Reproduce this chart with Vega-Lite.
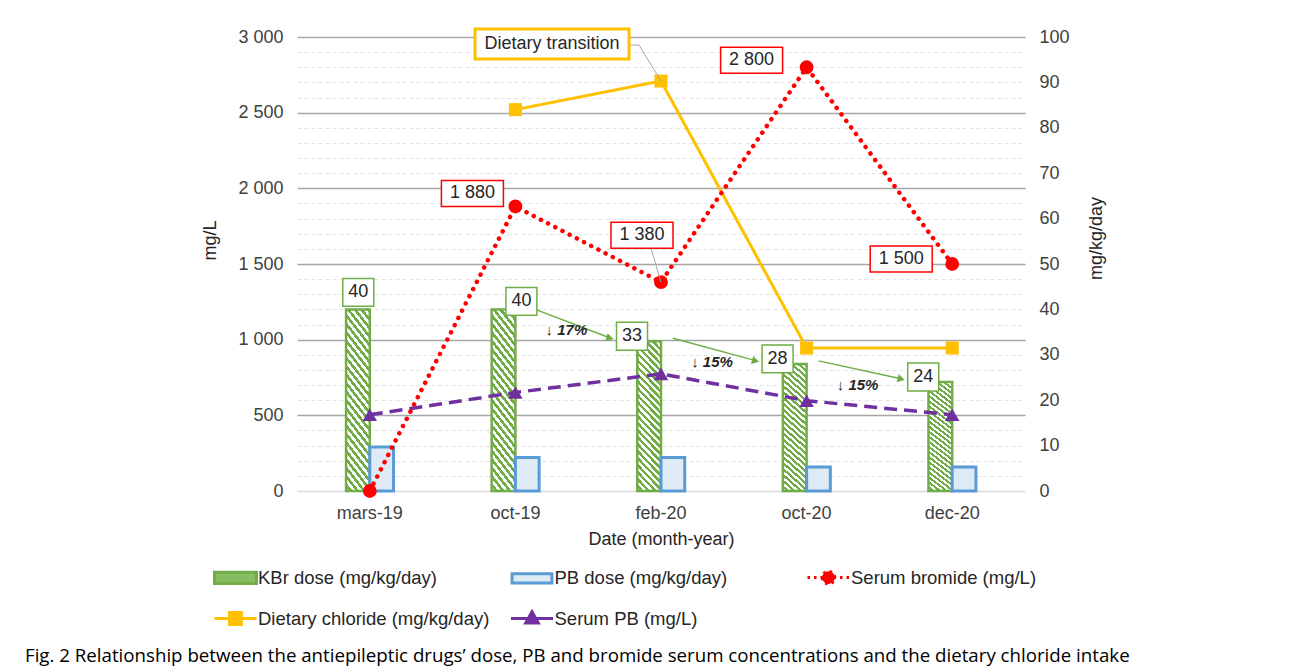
{
"$schema": "https://vega.github.io/schema/vega-lite/v6.json",
"width": 728, "height": 454,
"autosize": {"type": "none"},
"padding": {"left": 297, "top": 37, "right": 267, "bottom": 181},
"background": "white",
"config": {
  "view": {"stroke": null},
  "font": "Liberation Sans",
  "locale": {"number": {"decimal": ".", "thousands": " ", "grouping": [3], "currency": ["", ""]}},
  "axis": {"labelFont": "Liberation Sans", "titleFont": "Liberation Sans", "labelFontSize": 18, "titleFontSize": 18, "labelColor": "#404040", "titleColor": "#262626", "titleFontWeight": "normal", "ticks": false, "domain": false}
},
"title": {"text": "Fig. 2 Relationship between the antiepileptic drugs\u2019 dose, PB and bromide serum concentrations and the dietary chloride intake", "orient": "bottom", "anchor": "start", "frame": "group", "dx": -272, "offset": 16, "font": "Open Sans", "fontSize": 18.7, "fontWeight": "normal", "color": "#000000"},
"datasets": {
  "main": [
    {"date": "mars-19", "series": "KBr dose (mg/kg/day)", "value": 40},
    {"date": "oct-19", "series": "KBr dose (mg/kg/day)", "value": 40},
    {"date": "feb-20", "series": "KBr dose (mg/kg/day)", "value": 33},
    {"date": "oct-20", "series": "KBr dose (mg/kg/day)", "value": 28},
    {"date": "dec-20", "series": "KBr dose (mg/kg/day)", "value": 24},
    {"date": "mars-19", "series": "PB dose (mg/kg/day)", "value": 9.7},
    {"date": "oct-19", "series": "PB dose (mg/kg/day)", "value": 7.4},
    {"date": "feb-20", "series": "PB dose (mg/kg/day)", "value": 7.4},
    {"date": "oct-20", "series": "PB dose (mg/kg/day)", "value": 5.3},
    {"date": "dec-20", "series": "PB dose (mg/kg/day)", "value": 5.3},
    {"date": "mars-19", "series": "Serum bromide (mg/L)", "value": 0},
    {"date": "oct-19", "series": "Serum bromide (mg/L)", "value": 1880},
    {"date": "feb-20", "series": "Serum bromide (mg/L)", "value": 1380},
    {"date": "oct-20", "series": "Serum bromide (mg/L)", "value": 2800},
    {"date": "dec-20", "series": "Serum bromide (mg/L)", "value": 1500},
    {"date": "oct-19", "series": "Dietary chloride (mg/kg/day)", "value": 84},
    {"date": "feb-20", "series": "Dietary chloride (mg/kg/day)", "value": 90.3},
    {"date": "oct-20", "series": "Dietary chloride (mg/kg/day)", "value": 31.5},
    {"date": "dec-20", "series": "Dietary chloride (mg/kg/day)", "value": 31.5},
    {"date": "mars-19", "series": "Serum PB (mg/L)", "value": 16.8},
    {"date": "oct-19", "series": "Serum PB (mg/L)", "value": 21.7},
    {"date": "feb-20", "series": "Serum PB (mg/L)", "value": 25.8},
    {"date": "oct-20", "series": "Serum PB (mg/L)", "value": 19.9},
    {"date": "dec-20", "series": "Serum PB (mg/L)", "value": 16.8}
  ],
  "arrows": [
    {"from": "oct-19", "to": "feb-20", "v1": 40, "v2": 33, "pct": "\u2193 17%"},
    {"from": "feb-20", "to": "oct-20", "v1": 33, "v2": 28, "pct": "\u2193 15%"},
    {"from": "oct-20", "to": "dec-20", "v1": 28, "v2": 24, "pct": "\u2193 15%"}
  ]
},
"data": {"name": "main"},
"resolve": {"scale": {"y": "independent"}},
"layer": [
  {
    "encoding": {
      "x": {"field": "date", "type": "nominal", "sort": ["mars-19", "oct-19", "feb-20", "oct-20", "dec-20"], "scale": {"domain": ["mars-19", "oct-19", "feb-20", "oct-20", "dec-20"], "paddingInner": 0.674, "paddingOuter": 0.337},
        "axis": {"orient": "bottom", "title": "Date (month-year)", "labelAngle": 0, "labelPadding": 13, "titlePadding": 8, "labelColor": "#404040", "titleColor": "#262626", "grid": false}},
      "y": {"field": "value", "type": "quantitative", "scale": {"domain": [0, 100], "nice": false},
        "axis": {"orient": "right", "values": [0, 10, 20, 30, 40, 50, 60, 70, 80, 90, 100], "title": "mg/kg/day", "titleAngle": 270, "titleY": 201, "grid": false, "labelPadding": 14, "titlePadding": 36}}
    },
    "layer": [
      {
        "transform": [{"filter": "datum.series === 'KBr dose (mg/kg/day)'"}],
        "mark": {"type": "bar", "strokeWidth": 2.5, "stroke": "#70AD47", "fill": {"gradient": "linear", "x1": 1, "y1": 0, "x2": 0.811, "y2": 1.135, "stops": [
{"offset":0,"color":"#70AD47"},{"offset":0.02,"color":"#70AD47"},{"offset":0.02,"color":"#FFFFFF"},{"offset":0.04,"color":"#FFFFFF"},
{"offset":0.04,"color":"#70AD47"},{"offset":0.06,"color":"#70AD47"},{"offset":0.06,"color":"#FFFFFF"},{"offset":0.08,"color":"#FFFFFF"},
{"offset":0.08,"color":"#70AD47"},{"offset":0.1,"color":"#70AD47"},{"offset":0.1,"color":"#FFFFFF"},{"offset":0.12,"color":"#FFFFFF"},
{"offset":0.12,"color":"#70AD47"},{"offset":0.14,"color":"#70AD47"},{"offset":0.14,"color":"#FFFFFF"},{"offset":0.16,"color":"#FFFFFF"},
{"offset":0.16,"color":"#70AD47"},{"offset":0.18,"color":"#70AD47"},{"offset":0.18,"color":"#FFFFFF"},{"offset":0.2,"color":"#FFFFFF"},
{"offset":0.2,"color":"#70AD47"},{"offset":0.22,"color":"#70AD47"},{"offset":0.22,"color":"#FFFFFF"},{"offset":0.24,"color":"#FFFFFF"},
{"offset":0.24,"color":"#70AD47"},{"offset":0.26,"color":"#70AD47"},{"offset":0.26,"color":"#FFFFFF"},{"offset":0.28,"color":"#FFFFFF"},
{"offset":0.28,"color":"#70AD47"},{"offset":0.3,"color":"#70AD47"},{"offset":0.3,"color":"#FFFFFF"},{"offset":0.32,"color":"#FFFFFF"},
{"offset":0.32,"color":"#70AD47"},{"offset":0.34,"color":"#70AD47"},{"offset":0.34,"color":"#FFFFFF"},{"offset":0.36,"color":"#FFFFFF"},
{"offset":0.36,"color":"#70AD47"},{"offset":0.38,"color":"#70AD47"},{"offset":0.38,"color":"#FFFFFF"},{"offset":0.4,"color":"#FFFFFF"},
{"offset":0.4,"color":"#70AD47"},{"offset":0.42,"color":"#70AD47"},{"offset":0.42,"color":"#FFFFFF"},{"offset":0.44,"color":"#FFFFFF"},
{"offset":0.44,"color":"#70AD47"},{"offset":0.46,"color":"#70AD47"},{"offset":0.46,"color":"#FFFFFF"},{"offset":0.48,"color":"#FFFFFF"},
{"offset":0.48,"color":"#70AD47"},{"offset":0.5,"color":"#70AD47"},{"offset":0.5,"color":"#FFFFFF"},{"offset":0.52,"color":"#FFFFFF"},
{"offset":0.52,"color":"#70AD47"},{"offset":0.54,"color":"#70AD47"},{"offset":0.54,"color":"#FFFFFF"},{"offset":0.56,"color":"#FFFFFF"},
{"offset":0.56,"color":"#70AD47"},{"offset":0.58,"color":"#70AD47"},{"offset":0.58,"color":"#FFFFFF"},{"offset":0.6,"color":"#FFFFFF"},
{"offset":0.6,"color":"#70AD47"},{"offset":0.62,"color":"#70AD47"},{"offset":0.62,"color":"#FFFFFF"},{"offset":0.64,"color":"#FFFFFF"},
{"offset":0.64,"color":"#70AD47"},{"offset":0.66,"color":"#70AD47"},{"offset":0.66,"color":"#FFFFFF"},{"offset":0.68,"color":"#FFFFFF"},
{"offset":0.68,"color":"#70AD47"},{"offset":0.7,"color":"#70AD47"},{"offset":0.7,"color":"#FFFFFF"},{"offset":0.72,"color":"#FFFFFF"},
{"offset":0.72,"color":"#70AD47"},{"offset":0.74,"color":"#70AD47"},{"offset":0.74,"color":"#FFFFFF"},{"offset":0.76,"color":"#FFFFFF"},
{"offset":0.76,"color":"#70AD47"},{"offset":0.78,"color":"#70AD47"},{"offset":0.78,"color":"#FFFFFF"},{"offset":0.8,"color":"#FFFFFF"},
{"offset":0.8,"color":"#70AD47"},{"offset":0.82,"color":"#70AD47"},{"offset":0.82,"color":"#FFFFFF"},{"offset":0.84,"color":"#FFFFFF"},
{"offset":0.84,"color":"#70AD47"},{"offset":0.86,"color":"#70AD47"},{"offset":0.86,"color":"#FFFFFF"},{"offset":0.88,"color":"#FFFFFF"},
{"offset":0.88,"color":"#70AD47"},{"offset":0.9,"color":"#70AD47"},{"offset":0.9,"color":"#FFFFFF"},{"offset":0.92,"color":"#FFFFFF"},
{"offset":0.92,"color":"#70AD47"},{"offset":0.94,"color":"#70AD47"},{"offset":0.94,"color":"#FFFFFF"},{"offset":0.96,"color":"#FFFFFF"},
{"offset":0.96,"color":"#70AD47"},{"offset":0.98,"color":"#70AD47"},{"offset":0.98,"color":"#FFFFFF"},{"offset":1,"color":"#FFFFFF"}
        ]}},
        "encoding": {
          "xOffset": {"field": "series", "type": "nominal", "scale": {"domain": ["KBr dose (mg/kg/day)", "PB dose (mg/kg/day)"], "paddingInner": 0, "paddingOuter": 0}}
        }
      },
      {
        "transform": [{"filter": "datum.series === 'PB dose (mg/kg/day)'"}],
        "mark": {"type": "bar", "fill": "#DEEBF7", "stroke": "#5B9BD5", "strokeWidth": 3},
        "encoding": {
          "xOffset": {"field": "series", "type": "nominal", "scale": {"domain": ["KBr dose (mg/kg/day)", "PB dose (mg/kg/day)"], "paddingInner": 0, "paddingOuter": 0}}
        }
      },
      {
        "transform": [{"filter": "datum.series === 'Dietary chloride (mg/kg/day)'"}],
        "mark": {"type": "line", "strokeWidth": 3},
        "encoding": {
          "stroke": {"field": "series", "type": "nominal",
            "scale": {"domain": ["KBr dose (mg/kg/day)", "PB dose (mg/kg/day)", "Serum bromide (mg/L)", "Dietary chloride (mg/kg/day)", "Serum PB (mg/L)"], "range": ["#70AD47", "#5B9BD5", "#FF0000", "#FFC000", "#7030A0"]},
            "legend": {
              "orient": "none", "legendX": -84, "legendY": 518, "direction": "horizontal", "columns": 3, "title": null,
              "symbolSize": 1764, "symbolStrokeWidth": 3, "symbolOpacity": 1,
              "symbolType": {"expr": "datum.value === 'KBr dose (mg/kg/day)' ? 'M-1,-0.27H1V0.27H-1Z' : datum.value === 'PB dose (mg/kg/day)' ? 'M-0.95,-0.22H0.95V0.22H-0.95Z' : datum.value === 'Serum bromide (mg/L)' ? 'M-1,0H1M-0.3,0A0.3,0.3 0 1 0 0.3,0A0.3,0.3 0 1 0 -0.3,0Z' : datum.value === 'Dietary chloride (mg/kg/day)' ? 'M-1,0H1M-0.28,-0.28H0.28V0.28H-0.28Z' : 'M-1,0H1M0,-0.32L0.3,0.22H-0.3Z'"},
              "symbolFillColor": {"expr": "datum.value === 'KBr dose (mg/kg/day)' ? '#86BC62' : datum.value === 'PB dose (mg/kg/day)' ? '#DEEBF7' : datum.value === 'Serum bromide (mg/L)' ? '#FF0000' : datum.value === 'Dietary chloride (mg/kg/day)' ? '#FFC000' : '#7030A0'"},
              "symbolDash": {"expr": "datum.value === 'Serum bromide (mg/L)' ? [2.5, 4] : []"},
              "labelFont": "Liberation Sans", "labelFontSize": 18.5, "labelColor": "#262626", "labelOffset": 0, "labelLimit": 500,
              "columnPadding": 14.5, "rowPadding": 6, "gridAlign": "all"
            }}
        }
      },
      {
        "transform": [{"filter": "datum.series === 'Dietary chloride (mg/kg/day)'"}],
        "mark": {"type": "point", "shape": "square", "filled": true, "size": 170, "color": "#FFC000", "opacity": 1}
      },
      {
        "transform": [{"filter": "datum.series === 'Serum PB (mg/L)'"}],
        "mark": {"type": "line", "strokeWidth": 3.5, "strokeDash": [13, 7], "color": "#7030A0"}
      },
      {
        "transform": [{"filter": "datum.series === 'Serum PB (mg/L)'"}],
        "mark": {"type": "point", "shape": "triangle-up", "filled": true, "size": 210, "color": "#7030A0", "opacity": 1}
      },
      {
        "data": {"name": "arrows"},
        "encoding": {
          "x": {"field": "from", "type": "nominal"},
          "y": {"field": "v1", "type": "quantitative"}
        },
        "layer": [
          {"mark": {"type": "rule", "color": "#70AD47", "strokeWidth": 1.5, "xOffset": 12, "yOffset": -3, "x2Offset": -50, "y2Offset": -3},
           "encoding": {"x2": {"field": "to"}, "y2": {"field": "v2"}}},
          {"mark": {"type": "point", "shape": "triangle-right", "filled": true, "size": 70, "color": "#70AD47", "opacity": 1, "angle": 15, "xOffset": -51, "yOffset": -3},
           "encoding": {"x": {"field": "to", "type": "nominal"}, "y": {"field": "v2", "type": "quantitative"}}},
          {"mark": {"type": "text", "font": "Liberation Sans, DejaVu Sans", "fontSize": 15, "fontStyle": "italic", "fontWeight": "bold", "color": "#262626", "dx": 51, "dy": 21},
           "encoding": {"text": {"field": "pct", "type": "nominal"}}}
        ]
      },
      {
        "transform": [{"filter": "datum.series === 'KBr dose (mg/kg/day)'"}],
        "encoding": {"text": {"field": "value", "type": "quantitative"}},
        "layer": [
          {"transform": [{"filter": "datum.date === 'mars-19'"}],
           "layer": [
             {"mark": {"type": "point", "shape": "M-1,-0.9H1V0.9H-1Z", "size": 961, "filled": true, "fill": "#FFFFFF", "stroke": "#70AD47", "strokeWidth": 1.5, "opacity": 1, "xOffset": -11.5, "yOffset": -17}},
             {"mark": {"type": "text", "fontSize": 18, "color": "#262626", "dx": -11.5, "dy": -17}}
           ]},
          {"transform": [{"filter": "datum.date === 'oct-19'"}],
           "layer": [
             {"mark": {"type": "point", "shape": "M-1,-0.9H1V0.9H-1Z", "size": 961, "filled": true, "fill": "#FFFFFF", "stroke": "#70AD47", "strokeWidth": 1.5, "opacity": 1, "xOffset": 6, "yOffset": -8}},
             {"mark": {"type": "text", "fontSize": 18, "color": "#262626", "dx": 6, "dy": -8}}
           ]},
          {"transform": [{"filter": "datum.date !== 'mars-19' && datum.date !== 'oct-19'"}],
           "layer": [
             {"mark": {"type": "point", "shape": "M-1,-0.9H1V0.9H-1Z", "size": 961, "filled": true, "fill": "#FFFFFF", "stroke": "#70AD47", "strokeWidth": 1.5, "opacity": 1, "xOffset": -29, "yOffset": -5}},
             {"mark": {"type": "text", "fontSize": 18, "color": "#262626", "dx": -29, "dy": -5}}
           ]}
        ]
      },
      {
        "transform": [{"filter": "datum.series === 'Dietary chloride (mg/kg/day)' && datum.date === 'feb-20'"}],
        "layer": [
          {"mark": {"type": "rule", "color": "#A6A6A6", "strokeWidth": 1, "xOffset": -22, "yOffset": -36},
           "encoding": {"x2": {"field": "date"}, "y2": {"field": "value"}}},
          {"mark": {"type": "rule", "color": "#A6A6A6", "strokeWidth": 1, "xOffset": -32, "yOffset": -36, "x2Offset": -22, "y2Offset": -36},
           "encoding": {"x2": {"field": "date"}, "y2": {"field": "value"}}},
          {"mark": {"type": "point", "shape": "M-1,-0.195H1V0.195H-1Z", "size": 23716, "filled": true, "fill": "#FFFFFF", "stroke": "#FFC000", "strokeWidth": 3, "opacity": 1, "xOffset": -109, "yOffset": -37}},
          {"mark": {"type": "text", "fontSize": 18, "color": "#262626", "dx": -109, "dy": -37},
           "encoding": {"text": {"value": "Dietary transition"}}}
        ]
      }
    ]
  },
  {
    "transform": [{"filter": "datum.series === 'Serum bromide (mg/L)'"}],
    "encoding": {
      "x": {"field": "date", "type": "nominal", "sort": ["mars-19", "oct-19", "feb-20", "oct-20", "dec-20"], "scale": {"domain": ["mars-19", "oct-19", "feb-20", "oct-20", "dec-20"], "paddingInner": 0.674, "paddingOuter": 0.337},
        "axis": {"orient": "bottom", "title": "Date (month-year)", "labelAngle": 0, "labelPadding": 13, "titlePadding": 8, "labelColor": "#404040", "titleColor": "#262626", "grid": false}},
      "y": {"field": "value", "type": "quantitative", "scale": {"domain": [0, 3000], "nice": false},
        "axis": {"orient": "left", "values": [0,100,200,300,400,500,600,700,800,900,1000,1100,1200,1300,1400,1500,1600,1700,1800,1900,2000,2100,2200,2300,2400,2500,2600,2700,2800,2900,3000],
          "title": "mg/L", "titlePadding": 18, "titleY": 203, "labelPadding": 14, "labelOverlap": false,
          "labelExpr": "datum.value % 500 === 0 ? replace(format(datum.value, ','), ',', ' ') : ''",
          "grid": true,
          "gridColor": {"condition": [{"test": "datum.value === 0", "value": "#D9D9D9"}, {"test": "datum.value % 500 === 0", "value": "#A6A6A6"}], "value": "#E2E2E2"},
          "gridDash": {"condition": {"test": "datum.value % 500 === 0", "value": []}, "value": [4, 3]},
          "gridWidth": {"condition": {"test": "datum.value % 500 === 0", "value": 1.4}, "value": 1}}}
    },
    "layer": [
      {"mark": {"type": "line", "strokeWidth": 4.5, "strokeDash": [0.1, 8], "strokeCap": "round", "color": "#FF0000"}},
      {"mark": {"type": "point", "shape": "circle", "filled": true, "size": 190, "color": "#FF0000", "opacity": 1}},
      {"transform": [{"filter": "datum.date === 'feb-20'"}],
       "mark": {"type": "rule", "color": "#A6A6A6", "strokeWidth": 1, "xOffset": -10, "yOffset": -34},
       "encoding": {"x2": {"field": "date"}, "y2": {"field": "value"}}},
      {"transform": [{"filter": "datum.date === 'oct-19'"}],
       "encoding": {"text": {"field": "value", "type": "quantitative", "format": ","}},
       "layer": [
         {"mark": {"type": "point", "shape": "M-1,-0.42H1V0.42H-1Z", "size": 3844, "filled": true, "fill": "#FFFFFF", "stroke": "#FF0000", "strokeWidth": 1.5, "opacity": 1, "xOffset": -43, "yOffset": -13}},
         {"mark": {"type": "text", "fontSize": 18, "color": "#262626", "dx": -43, "dy": -13}}
       ]},
      {"transform": [{"filter": "datum.date === 'feb-20'"}],
       "encoding": {"text": {"field": "value", "type": "quantitative", "format": ","}},
       "layer": [
         {"mark": {"type": "point", "shape": "M-1,-0.42H1V0.42H-1Z", "size": 3844, "filled": true, "fill": "#FFFFFF", "stroke": "#FF0000", "strokeWidth": 1.5, "opacity": 1, "xOffset": -19, "yOffset": -47}},
         {"mark": {"type": "text", "fontSize": 18, "color": "#262626", "dx": -19, "dy": -47}}
       ]},
      {"transform": [{"filter": "datum.date === 'oct-20'"}],
       "encoding": {"text": {"field": "value", "type": "quantitative", "format": ","}},
       "layer": [
         {"mark": {"type": "point", "shape": "M-1,-0.42H1V0.42H-1Z", "size": 3844, "filled": true, "fill": "#FFFFFF", "stroke": "#FF0000", "strokeWidth": 1.5, "opacity": 1, "xOffset": -55, "yOffset": -7}},
         {"mark": {"type": "text", "fontSize": 18, "color": "#262626", "dx": -55, "dy": -7}}
       ]},
      {"transform": [{"filter": "datum.date === 'dec-20'"}],
       "encoding": {"text": {"field": "value", "type": "quantitative", "format": ","}},
       "layer": [
         {"mark": {"type": "point", "shape": "M-1,-0.42H1V0.42H-1Z", "size": 3844, "filled": true, "fill": "#FFFFFF", "stroke": "#FF0000", "strokeWidth": 1.5, "opacity": 1, "xOffset": -51, "yOffset": -5}},
         {"mark": {"type": "text", "fontSize": 18, "color": "#262626", "dx": -51, "dy": -5}}
       ]}
    ]
  }
]
}
